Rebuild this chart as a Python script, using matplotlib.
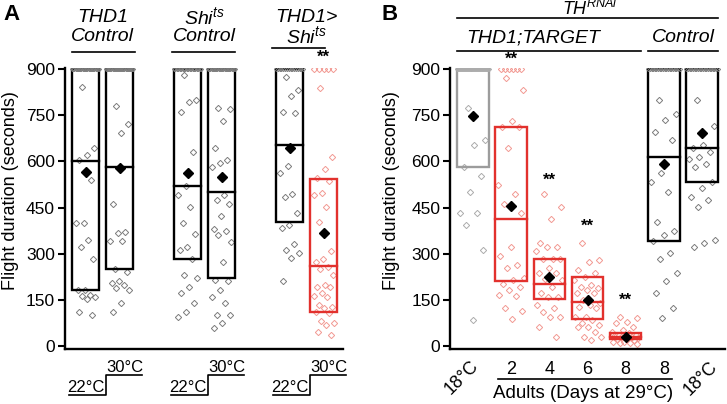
import numpy as np
import matplotlib
matplotlib.use('Agg')
import matplotlib.pyplot as plt
from matplotlib.patches import Rectangle
from matplotlib.transforms import blended_transform_factory

plt.rcParams['font.family'] = ['Liberation Sans', 'DejaVu Sans']
plt.rcParams['mathtext.fontset'] = 'custom'
plt.rcParams['mathtext.it'] = 'Liberation Sans:italic'
plt.rcParams['mathtext.rm'] = 'Liberation Sans'

#### data panel A (THD1 Control / Shi ts Control / THD1>Shi ts, 22 then 30 C) ####
a_pos = [1, 2, 4, 5, 7, 8]
a_kind = ['k', 'k', 'k', 'k', 'k', 'r']
a_q1 = [182, 250, 282, 220, 402, 111]
a_med = [602, 582, 521, 500, 652, 260]
a_q3 = [900, 900, 900, 900, 900, 543]
a_mean = [566, 577, 561, 549, 645, 367]
a_n900 = [12, 13, 10, 12, 8, 5]   # flies that flew the full 900 s
a_pts = [
    [842, 642, 620, 605, 541, 400, 400, 343, 323, 282, 182, 182, 166, 162, 160, 153, 111, 101],
    [781, 721, 691, 461, 371, 368, 341, 341, 250, 240, 212, 206, 197, 187, 182, 141, 111],
    [880, 801, 794, 761, 631, 520, 492, 451, 401, 363, 323, 312, 282, 231, 220, 193, 171, 141, 111, 95],
    [772, 770, 731, 642, 604, 594, 581, 491, 474, 461, 423, 379, 374, 360, 339, 272, 214, 211, 182,
     158, 141, 101, 101, 74, 57],
    [873, 832, 812, 761, 756, 585, 561, 494, 483, 431, 393, 382, 331, 312, 301, 285, 211],
    [840, 613, 574, 545, 537, 496, 491, 453, 402, 310, 282, 274, 258, 249, 231, 198, 193, 191, 171,
     163, 160, 133, 128, 122, 111, 108, 81, 74, 68, 46, 36],
]

#### data panel B (TH RNAi) ####
b_pos = [1, 2, 3, 4, 5, 6, 7]
b_kind = ['g', 'r', 'r', 'r', 'r', 'k', 'k']
b_q1 = [581, 212, 152, 87, 22, 341, 532]
b_med = [900, 413, 202, 143, 30, 613, 642]
b_q3 = [900, 712, 283, 223, 41, 900, 900]
b_mean = [748, 456, 223, 149, 30, 591, 693]
b_n900 = [17, 6, 0, 0, 0, 10, 10]
b_pts = [
    [772, 671, 653, 582, 552, 501, 433, 433, 393, 312, 84],
    [870, 832, 732, 712, 712, 642, 523, 493, 461, 431, 323, 292, 263, 252, 220, 214, 201, 193, 182,
     166, 162, 122, 115, 87],
    [493, 453, 413, 334, 323, 323, 310, 283, 283, 282, 252, 236, 236, 217, 214, 193, 171, 160, 158,
     133, 122, 111, 95, 95, 63, 30],
    [334, 279, 274, 247, 236, 225, 214, 198, 193, 187, 182, 171, 171, 149, 139, 133, 128, 122, 95,
     95, 84, 74, 68, 63, 63, 46, 30, 28, 19],
    [95, 90, 79, 74, 63, 52, 46, 41, 35, 35, 30, 30, 30, 28, 25, 25, 22, 19, 14, 14, 11, 9, 5],
    [801, 753, 734, 696, 671, 561, 532, 501, 402, 374, 360, 341, 303, 282, 236, 212, 173, 122, 92],
    [801, 715, 653, 642, 631, 615, 607, 591, 581, 534, 512, 485, 474, 453, 344, 334, 323],
]
b_days = ['2', '4', '6', '8', '8']
a_stars = [8]
b_stars = [(2, 59), (3, 180), (4, 226), (5, 300)]   # position, pixel height of **

W, H = 727, 404
BOX = {'k': 'black', 'g': '#9c9c9c', 'r': '#e2312d'}
PT = {'k': '#7c7c7c', 'g': '#acacac', 'r': '#f29a93'}


def top(py):
    return 1 - py / H


def draw_groups(ax, pos, kind, q1, med, q3, mean, n900, pts, width, spread):
    for i in range(len(pos)):
        x = pos[i]
        vals = np.array(pts[i])
        k = np.arange(len(vals))
        off = spread * (((k * 0.618034 + 0.31) % 1) * 2 - 1)
        ax.plot(x + off, vals, 'D', ms=3.2, mfc='none', mec=PT[kind[i]], mew=0.7, zorder=2)
        if n900[i] > 0:
            if kind[i] == 'r':
                xs = np.linspace(-0.27, 0.27, n900[i])
                ax.plot(x + xs, [900] * n900[i], 'D', ms=3.2, mfc='none', mec=PT[kind[i]], mew=0.7, zorder=2)
            else:
                xs = np.linspace(-width / 2, width / 2, n900[i] * 2)
                ax.plot(x + xs, [900] * len(xs), 'D', ms=2.2, mfc='none', mec=PT[kind[i]], mew=0.6, zorder=4)
        c = BOX[kind[i]]
        ax.add_patch(Rectangle((x - width / 2, q1[i]), width, q3[i] - q1[i], fill=False,
                               ec=c, lw=1.7, zorder=3))
        ax.plot([x - width / 2, x + width / 2], [med[i], med[i]], color=c, lw=1.7, zorder=3)
        ax.plot(x, mean[i], 'D', ms=5.3, color='black', zorder=5)


def setup(ax, xlim):
    ax.set_xlim(*xlim)
    ax.set_ylim(-8, 905)
    ax.spines[['top', 'right']].set_visible(False)
    ax.spines[['left', 'bottom']].set_linewidth(1.7)
    ax.set_yticks(np.arange(0, 901, 150))
    ax.tick_params(axis='y', length=5, width=1.5, labelsize=12.5, pad=2)


fig = plt.figure(figsize=(W / 100, H / 100), dpi=100)

#### Panel A ####
axA = fig.add_axes([64.5 / W, top(348.5), (343 - 64.5) / W, 281 / H])
setup(axA, (0.38, 8.57))
axA.set_xticks([])
draw_groups(axA, a_pos, a_kind, a_q1, a_med, a_q3, a_mean, a_n900, a_pts, 0.8, 0.3)
tA = blended_transform_factory(axA.transData, fig.transFigure)

heads = [('THD1', 'Control', 1.5, 0.60, 2.46, 52),
         ('Shi$^{ts}$', 'Control', 4.5, 3.54, 5.40, 52),
         ('THD1>', 'Shi$^{ts}$', 7.5, 6.49, 8.04, 48)]
for l1, l2, c, x0, x1, yl in heads:
    axA.text(c, top(17), l1, transform=tA, ha='center', va='center', fontsize=14, style='italic')
    axA.text(c, top(36.5), l2, transform=tA, ha='center', va='center', fontsize=14, style='italic')
    axA.plot([x0, x1], [top(yl)] * 2, transform=tA, color='black', lw=1.2, clip_on=False)
    # temperature step 22 -> 30 C
    axA.plot([c - 1.0, c + 0.1, c + 0.1, c + 1.15], [top(395), top(395), top(375), top(375)],
             transform=tA, color='black', lw=1.2, clip_on=False)
    axA.text(c - 0.5, top(392), '22°C', transform=tA, ha='center', va='baseline', fontsize=12)
    axA.text(c + 0.65, top(372), '30°C', transform=tA, ha='center', va='baseline', fontsize=12)
for s in a_stars:
    axA.text(s, top(57), '**', transform=tA, ha='center', va='center', fontsize=12, fontweight='bold')

#### Panel B ####
axB = fig.add_axes([450 / W, top(348.5), (725 - 450) / W, 281 / H])
setup(axB, (0.40, 7.60))
axB.set_xticks(b_pos[1:6], b_days)
axB.tick_params(axis='x', length=0, pad=9, labelsize=13)
draw_groups(axB, b_pos, b_kind, b_q1, b_med, b_q3, b_mean, b_n900, b_pts, 0.82, 0.36)
tB = blended_transform_factory(axB.transData, fig.transFigure)

axB.text(4.06, top(9), 'TH$^{RNAi}$', transform=tB, ha='center', va='center', fontsize=13, style='italic')
axB.plot([0.58, 7.41], [top(18)] * 2, transform=tB, color='black', lw=1.2, clip_on=False)
axB.text(2.57, top(38), 'THD1;TARGET', transform=tB, ha='center', va='center', fontsize=14, style='italic')
axB.plot([0.58, 5.40], [top(50.5)] * 2, transform=tB, color='black', lw=1.2, clip_on=False)
axB.text(6.50, top(38), 'Control', transform=tB, ha='center', va='center', fontsize=14, style='italic')
axB.plot([5.58, 7.41], [top(50.5)] * 2, transform=tB, color='black', lw=1.2, clip_on=False)
for p, yy in b_stars:
    axB.text(p, top(yy), '**', transform=tB, ha='center', va='center', fontsize=12, fontweight='bold')

axB.text(0.70, top(357), '18°C', transform=tB, rotation=45, ha='center', va='top', fontsize=13)
axB.text(6.96, top(358), '18°C', transform=tB, rotation=45, ha='center', va='top', fontsize=13)
axB.plot([1.65, 6.21], [top(379)] * 2, transform=tB, color='black', lw=1.2, clip_on=False)
axB.text(3.88, top(394), 'Adults (Days at 29°C)', transform=tB, ha='center', va='center', fontsize=13.5)

#### panel letters and y labels ####
fig.text(11.5 / W, top(14), 'A', ha='center', va='center', fontsize=16, fontweight='bold')
fig.text(390 / W, top(14), 'B', ha='center', va='center', fontsize=16, fontweight='bold')
fig.text(11 / W, top(191), 'Flight duration (seconds)', rotation=90, ha='center', va='center', fontsize=13)
fig.text(391 / W, top(191), 'Flight duration (seconds)', rotation=90, ha='center', va='center', fontsize=13)

fig.savefig('out.png', dpi=100)
